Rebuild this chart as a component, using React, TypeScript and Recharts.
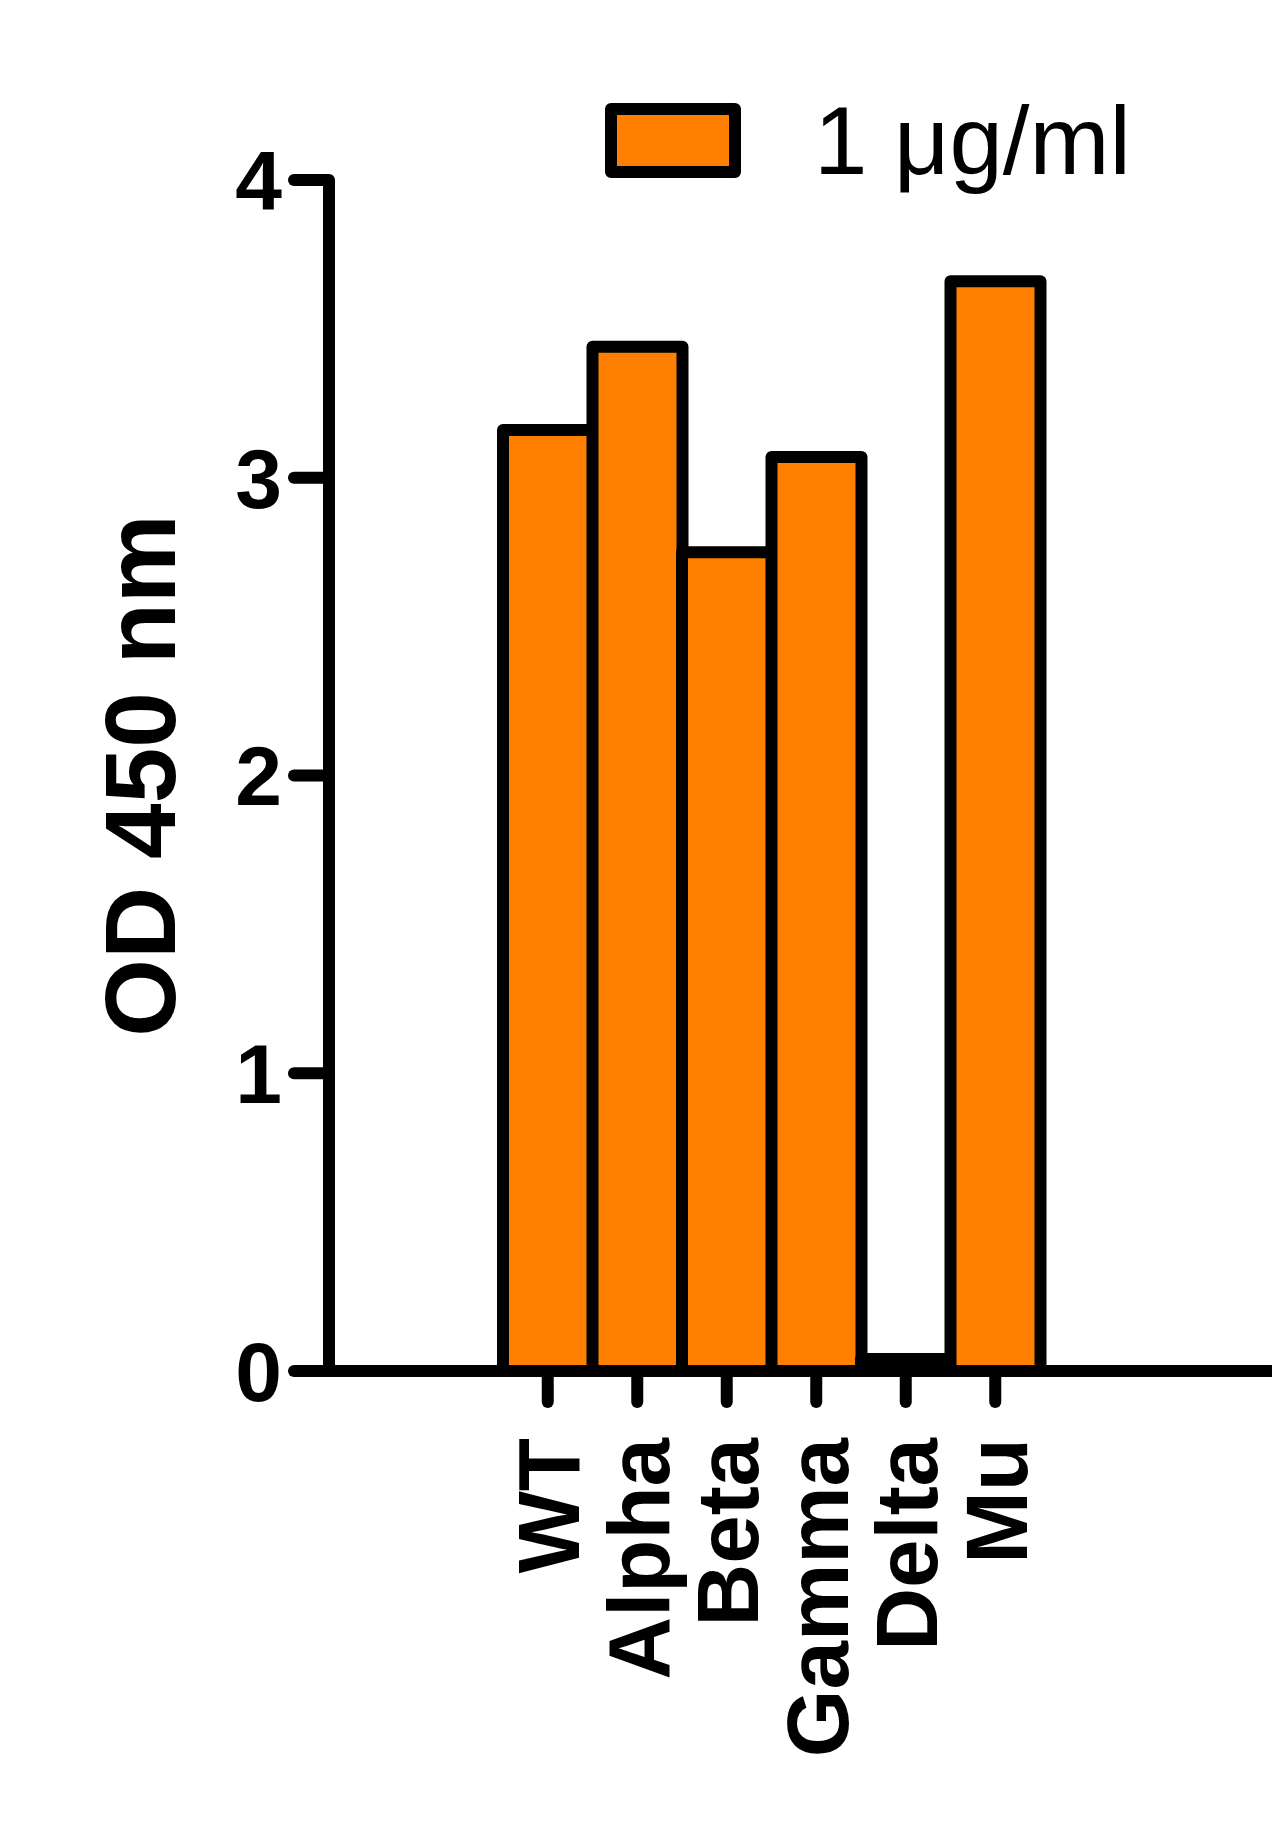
import { BarChart, Bar, XAxis, YAxis, Legend, Label } from "recharts";

const FONT = '"Liberation Sans", Arial, Helvetica, sans-serif';

// values (OD 450 nm at 1 µg/ml)
const categories = ["WT", "Alpha", "Beta", "Gamma", "Delta", "Mu"];
const od450 = [3.16, 3.44, 2.75, 3.07, 0.04, 3.66];
const yTicks = [0, 1, 2, 3, 4];
const seriesName = "1 μg/ml";
const barColor = "#FF8000";

const data = categories.map((name, i) => ({ name, value: od450[i] }));

// rotated category labels, read bottom-to-top, ending just under the tick
function CategoryTick(props: any) {
  const { x, y, payload } = props;
  return (
    <text
      x={x}
      y={y}
      transform={`rotate(-90 ${x} ${y})`}
      textAnchor="end"
      dy="0.36em"
      fontSize={87}
      fontWeight="bold"
      fontFamily={FONT}
      fill="#000"
    >
      {payload.value}
    </text>
  );
}

function renderYLabel(props: any) {
  const vb = props.viewBox || { x: 0, y: 180, width: 329, height: 1191 };
  const cx = vb.x + 139;
  const cy = vb.y + vb.height / 2;
  return (
    <text
      x={cx}
      y={cy}
      transform={`rotate(-90 ${cx} ${cy})`}
      textAnchor="middle"
      dy="0.36em"
      fontSize={100}
      fontWeight="bold"
      fontFamily={FONT}
      fill="#000"
    >
      OD 450 nm
    </text>
  );
}

function renderLegend(props: any) {
  const entry = props.payload && props.payload[0];
  return (
    <svg width={640} height={150} style={{ display: "block", overflow: "visible" }}>
      <rect
        x={13}
        y={14}
        width={124}
        height={63}
        fill={(entry && entry.color) || barColor}
        stroke="#000"
        strokeWidth={12}
        strokeLinejoin="round"
      />
      <text x={216} y={79} fontSize={96} fontFamily={FONT} fill="#000">
        {(entry && entry.value) || seriesName}
      </text>
    </svg>
  );
}

export default function App() {
  return (
    <div
      style={{
        position: "absolute",
        left: 0,
        top: 0,
        width: 1272,
        height: 1821,
        background: "#fff",
      }}
    >
      <BarChart
        width={1272}
        height={1821}
        data={data}
        margin={{ top: 180, right: 0, bottom: 50, left: 0 }}
        barCategoryGap={0}
        barGap={0}
      >
        <YAxis
          width={329}
          domain={[0, 4]}
          ticks={yTicks}
          interval={0}
          allowDecimals={false}
          axisLine={{ stroke: "#000", strokeWidth: 12 }}
          tickLine={{ stroke: "#000", strokeWidth: 12, strokeLinecap: "round" }}
          tickSize={35}
          tickMargin={12}
          tick={{ fontSize: 84, fontWeight: "bold", fill: "#000", fontFamily: FONT }}
        >
          <Label content={renderYLabel} />
        </YAxis>
        <XAxis
          dataKey="name"
          height={400}
          interval={0}
          padding={{ left: 174, right: 232 }}
          axisLine={{ stroke: "#000", strokeWidth: 12 }}
          tickLine={{ stroke: "#000", strokeWidth: 12, strokeLinecap: "round" }}
          tickSize={31}
          tickMargin={36}
          tick={<CategoryTick />}
        />
        <Legend
          layout="horizontal"
          verticalAlign="middle"
          align="center"
          content={renderLegend}
          wrapperStyle={{ left: 598, top: 95, width: 640, height: 150 }}
        />
        <Bar
          dataKey="value"
          name={seriesName}
          fill={barColor}
          stroke="#000"
          strokeWidth={12}
          strokeLinejoin="round"
          legendType="rect"
          isAnimationActive={false}
        />
      </BarChart>
    </div>
  );
}
